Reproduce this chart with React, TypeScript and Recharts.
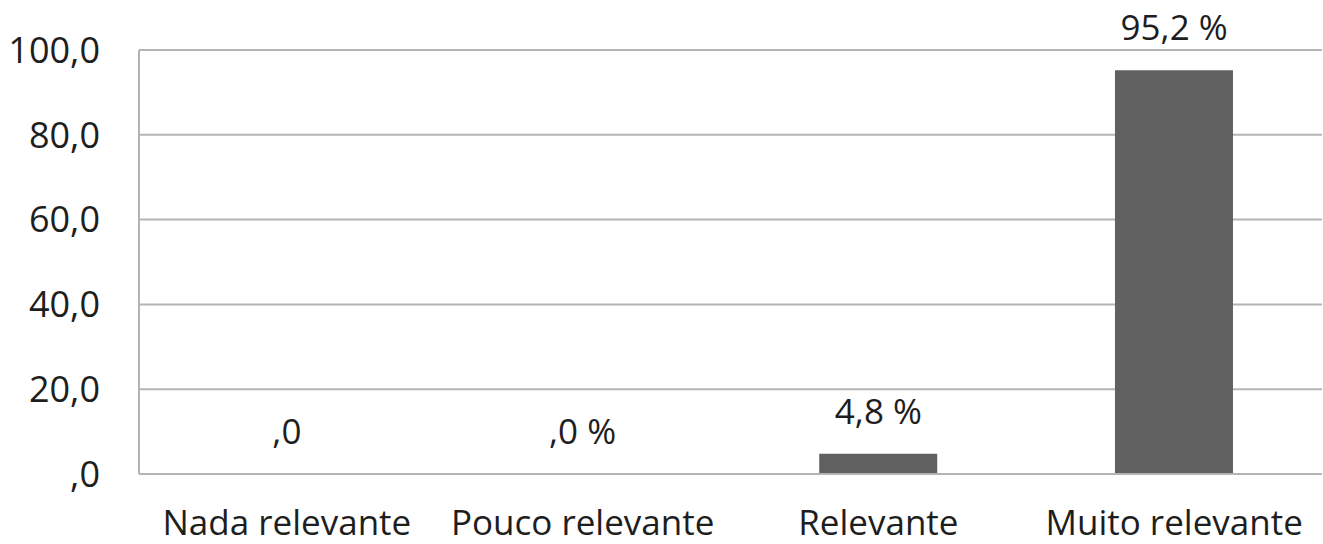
import React from 'react';
import { ComposedChart, Bar, Line, XAxis, YAxis, CartesianGrid, LabelList } from 'recharts';

const categories = ['Nada relevante', 'Pouco relevante', 'Relevante', 'Muito relevante'];
const values = [0, 0, 4.8, 95.2];
const valueLabels = [',0', ',0 %', '4,8 %', '95,2 %'];
const yTicks = [0, 20, 40, 60, 80, 100];

const data = categories.map((name, i) => ({ name, value: values[i], label: valueLabels[i] }));

const font = '"Open Sans", sans-serif';
const textColor = '#1e1e1e';

function yFormat(v: number) {
  if (v === 0) return ',0';
  return v.toFixed(1).replace('.', ',');
}

export default function App() {
  return (
    <div style={{ position: 'absolute', left: 0, top: 0, background: '#fff' }}>
      <ComposedChart
        width={1323}
        height={544}
        data={data}
        margin={{ top: 50, right: 1, left: 0, bottom: 0 }}
        barCategoryGap="30%"
      >
        <CartesianGrid vertical={false} stroke="#b4b4b4" strokeWidth={2} />
        <XAxis
          dataKey="name"
          height={70}
          tickSize={0}
          tickMargin={36}
          axisLine={{ stroke: '#b4b4b4', strokeWidth: 2 }}
          tick={{ fill: textColor, fontSize: 35, fontFamily: font }}
        />
        <YAxis
          width={139}
          domain={[0, 100]}
          ticks={yTicks}
          tickFormatter={yFormat}
          tickSize={0}
          tickMargin={39}
          axisLine={{ stroke: '#b4b4b4', strokeWidth: 2 }}
          tick={{ fill: textColor, fontSize: 36, fontFamily: font }}
        />
        <Bar dataKey="value" fill="#606060" isAnimationActive={false} />
        {/* invisible line only to carry the value labels (zero bars included) */}
        <Line
          dataKey="value"
          stroke="none"
          dot={false}
          activeDot={false}
          isAnimationActive={false}
        >
          <LabelList
            dataKey="label"
            position="top"
            offset={30}
            style={{ fill: textColor, fontSize: 35, fontFamily: font }}
          />
        </Line>
      </ComposedChart>
    </div>
  );
}
